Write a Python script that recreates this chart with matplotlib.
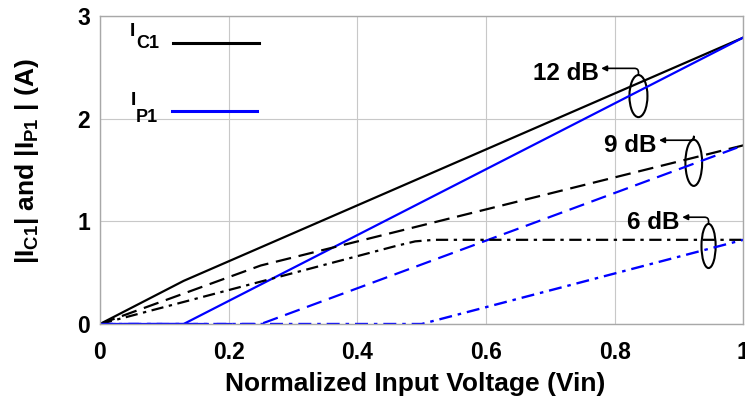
import matplotlib
matplotlib.use("Agg")
import matplotlib.pyplot as plt
from matplotlib.patches import Ellipse
from matplotlib.lines import Line2D

plt.rcParams['font.family'] = ['Liberation Sans', 'DejaVu Sans']
plt.rcParams['font.weight'] = 'bold'
plt.rcParams['mathtext.fontset'] = 'custom'
plt.rcParams['mathtext.rm'] = 'Liberation Sans:bold'
plt.rcParams['mathtext.bf'] = 'Liberation Sans:bold'
plt.rcParams['mathtext.it'] = 'Liberation Sans:bold'

# ---- data ----
vin_c12 = [0.0, 0.13, 1.0]
ic1_12 = [0.0, 0.42, 2.79]
vin_p12 = [0.0, 0.13, 1.0]
ip1_12 = [0.0, 0.0, 2.79]

vin_c9 = [0.0, 0.25, 1.0]
ic1_9 = [0.0, 0.57, 1.74]
vin_p9 = [0.0, 0.25, 1.0]
ip1_9 = [0.0, 0.0, 1.74]

vin_c6 = [0.0, 0.46, 0.49, 0.52, 1.0]
ic1_6 = [0.0, 0.76, 0.805, 0.82, 0.82]
vin_p6 = [0.0, 0.5, 1.0]
ip1_6 = [0.0, 0.0, 0.82]

x_ticks = [0, 0.2, 0.4, 0.6, 0.8, 1.0]
x_ticklabels = ["0", "0.2", "0.4", "0.6", "0.8", "1"]
y_ticks = [0, 1, 2, 3]
y_ticklabels = ["0", "1", "2", "3"]

# annotation: label, text right x, text y, ellipse center x/y, width, height
ann_labels = ["12 dB", "9 dB", "6 dB"]
ann_text_x = [0.779, 0.869, 0.905]
ann_text_y = [2.44, 1.74, 0.99]
ann_ell_x = [0.837, 0.923, 0.946]
ann_ell_y = [2.22, 1.57, 0.76]
ann_ell_w = [0.028, 0.026, 0.022]
ann_ell_h = [0.41, 0.45, 0.43]

fig = plt.figure(figsize=(7.45, 3.96), dpi=100)
ax = fig.add_axes([100/745, (396-324)/396, 643.3/745, 308/396])

solid = '-'
dashed = (0, (7, 3.5))
dashdot = (0, (5.5, 2.5, 1.5, 2.5))
blue = '#0000ff'

ax.plot(vin_c12, ic1_12, color='black', lw=1.6, linestyle=solid)
ax.plot(vin_p12, ip1_12, color=blue, lw=1.6, linestyle=solid)
ax.plot(vin_c9, ic1_9, color='black', lw=1.6, linestyle=dashed)
ax.plot(vin_p9, ip1_9, color=blue, lw=1.6, linestyle=dashed)
ax.plot(vin_c6, ic1_6, color='black', lw=1.6, linestyle=dashdot)
ax.plot(vin_p6, ip1_6, color=blue, lw=1.7, linestyle=dashdot)

ax.set_xlim(0, 1)
ax.set_ylim(0, 3)
ax.set_xticks(x_ticks)
ax.set_xticklabels(x_ticklabels)
ax.set_yticks(y_ticks)
ax.set_yticklabels(y_ticklabels)
ax.tick_params(axis='both', length=0, labelsize=16.5)
ax.tick_params(axis='x', pad=12)
ax.tick_params(axis='y', pad=7)
for lab in ax.get_xticklabels() + ax.get_yticklabels():
    lab.set_fontweight('bold')
ax.grid(True, color='#c8c8c8', lw=0.8)
ax.set_axisbelow(True)
for s in ax.spines.values():
    s.set_color('#a8a8a8')
    s.set_linewidth(1.0)

ax.set_xlabel('Normalized Input Voltage (Vin)', fontsize=19, fontweight='bold')
ax.xaxis.set_label_coords(0.49, -0.155)
ax.set_ylabel(r'$|I_{C1}|$ and $|I_{P1}\ |$ (A)', fontsize=19, fontweight='bold')
ax.yaxis.set_label_coords(-0.092, 0.53)

# legend drawn manually
def px2data(px, py):
    return (px - 100) / 643.3, (324 - py) / 102.7

for main, sub, (bx, by), (sx, sy), (l0, l1, ly), col in [
        ("I", "C1", (130, 36), (136, 48), (173, 259, 42.7), 'black'),
        ("I", "P1", (131, 105), (136, 122), (172, 257, 111), blue)]:
    x, y = px2data(bx, by)
    ax.text(x, y, main, fontsize=14, fontweight='bold', ha='left', va='baseline')
    x, y = px2data(sx, sy)
    ax.text(x, y, sub, fontsize=13, fontweight='bold', ha='left', va='baseline')
    xa, yy = px2data(l0, ly)
    xb, _ = px2data(l1, ly)
    ax.add_line(Line2D([xa, xb], [yy, yy], color=col, lw=2.2))

for lab, tx, ty, ex, ey, ew, eh in zip(ann_labels, ann_text_x, ann_text_y,
                                       ann_ell_x, ann_ell_y, ann_ell_w, ann_ell_h):
    ax.add_patch(Ellipse((ex, ey), ew, eh, fill=False, ec='black', lw=1.5))
    ax.text(tx - 0.004, ty, lab, fontsize=17.5, fontweight='bold', ha='right', va='center')
    ax.annotate('', xy=(tx, ty + 0.05), xytext=(ex, ey + eh / 2),
                arrowprops=dict(arrowstyle='-|>', color='black', lw=1.2,
                                mutation_scale=8, shrinkA=0, shrinkB=0,
                                connectionstyle='angle,angleA=90,angleB=0,rad=4'))

fig.savefig('out.png', dpi=100)
